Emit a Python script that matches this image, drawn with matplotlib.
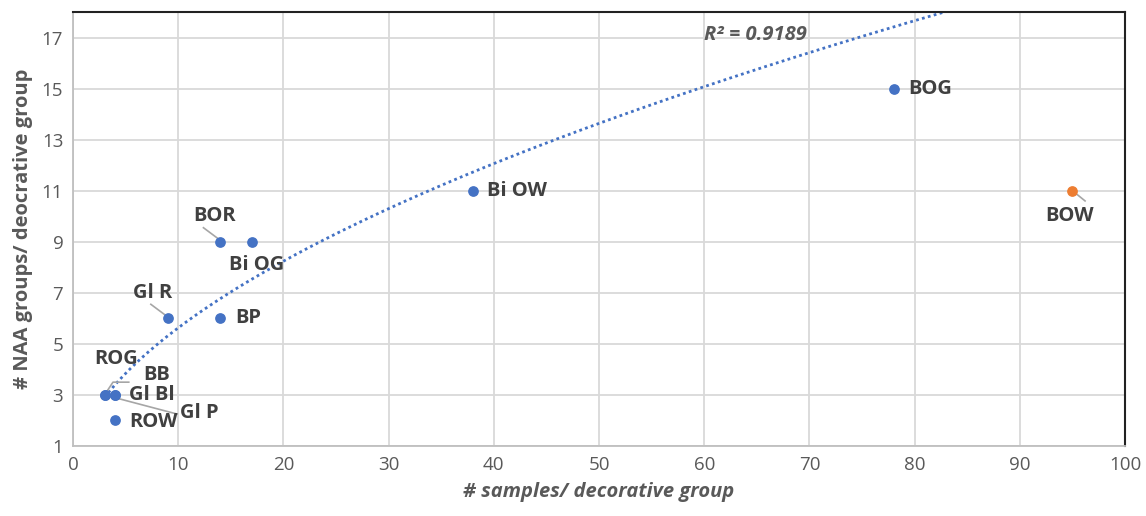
# Muestras por grupo decorativo vs grupos NAA
import numpy as np
import matplotlib.pyplot as plt

plt.rcParams['font.family'] = ['Open Sans', 'DejaVu Sans']

# Datos
etiquetas = ['BOG', 'Bi OW', 'BOR', 'Bi OG', 'Gl R', 'BP', 'ROG', 'BB', 'Gl Bl', 'Gl P', 'ROW']
muestras = [78, 38, 14, 17, 9, 14, 3, 4, 4, 3, 4]
grupos = [15, 11, 9, 9, 6, 6, 3, 3, 3, 3, 2]

# Punto atipico (fuera del ajuste)
atipico_nombre = 'BOW'
atipico_x = 95
atipico_y = 11

# Ajuste potencial y = a * x^b
coef_a = 1.586
coef_b = 0.55
r2_texto = 'R² = 0.9189'

azul = '#4472C4'
naranja = '#ED7D31'
gris_texto = '#404040'
gris_rejilla = '#d9d9d9'

fig = plt.figure(figsize=(11.46, 5.16), dpi=100)
ax = fig.add_axes([0.0637, 0.1357, 0.918, 0.841])

ax.set_xlim(0, 100)
ax.set_ylim(1, 18)
ax.set_xticks(np.arange(0, 101, 10))
ax.set_yticks(np.arange(1, 18, 2))
ax.grid(True, color=gris_rejilla, linewidth=1.3)
ax.set_axisbelow(True)
ax.tick_params(length=0, labelsize=13.5, colors='#595959', pad=7)

for lado in ['left', 'bottom']:
    ax.spines[lado].set_color('#bfbfbf')
    ax.spines[lado].set_linewidth(1.3)
for lado in ['top', 'right']:
    ax.spines[lado].set_color('#222222')
    ax.spines[lado].set_linewidth(1.5)

# Linea de tendencia
xt = np.linspace(min(muestras), 90, 300)
ax.plot(xt, coef_a * xt ** coef_b, linestyle=(0, (1, 1.2)), color=azul, linewidth=2, zorder=2)

ax.scatter(muestras, grupos, s=45, color=azul, zorder=3)
ax.scatter([atipico_x], [atipico_y], s=45, color=naranja, zorder=3)

# Posiciones de las etiquetas (x, y) y si llevan linea guia
pos_etiquetas = {
    'BOG': (79.4, 15, False),
    'Bi OW': (39.4, 11, False),
    'BOR': (11.4, 10.0, True),
    'Bi OG': (14.8, 8.1, False),
    'Gl R': (5.7, 7.0, True),
    'BP': (15.4, 6, False),
    'ROG': (2.0, 4.4, True),
    'BB': (6.7, 3.8, False),
    'Gl Bl': (5.3, 3.0, False),
    'Gl P': (10.2, 2.3, True),
    'ROW': (5.3, 1.95, False),
}

estilo = dict(fontsize=14.5, fontweight='bold', color=gris_texto, va='center', ha='left')
for nombre, x, y in zip(etiquetas, muestras, grupos):
    lx, ly, guia = pos_etiquetas[nombre]
    ax.text(lx, ly, nombre, **estilo)
    if guia:
        if nombre == 'Gl P':
            ax.plot([x, lx - 0.3], [y, ly - 0.05], color='#a6a6a6', linewidth=1.2, zorder=2)
        elif nombre == 'ROG':
            ax.plot([x, 3.8, 5.3], [y, 3.5, 3.5], color='#a6a6a6', linewidth=1.2, zorder=2)
        else:
            ax.plot([x - 0.3, x - 1.6], [y + 0.15, y + 0.55], color='#a6a6a6', linewidth=1.2, zorder=2)

ax.plot([atipico_x + 0.3, atipico_x + 1.2], [atipico_y - 0.1, atipico_y - 0.4], color='#a6a6a6', linewidth=1.2)
ax.text(92.4, 10.0, atipico_nombre, **estilo)

ax.text(60, 17.1, r2_texto, fontsize=14.5, fontweight='bold', fontstyle='italic',
        color='#595959', va='center', ha='left')

ax.set_xlabel('# samples/ decorative group', fontsize=14.5, fontweight='bold',
              fontstyle='italic', color='#595959', labelpad=6)
ax.set_ylabel('# NAA groups/ deocrative group', fontsize=14.5, fontweight='bold',
              color='#595959', labelpad=6)

fig.savefig('out.png', dpi=100)
